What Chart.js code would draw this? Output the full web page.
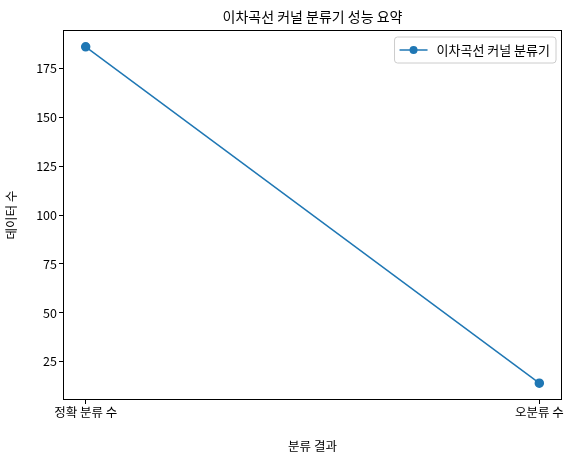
<!DOCTYPE html>
<html>
<head>
<meta charset="utf-8">
<script src="https://cdn.jsdelivr.net/npm/chart.js@4"></script>
<style>
  body { margin: 0; background: #fff; }
  #wrap { width: 573px; height: 454px; }
</style>
</head>
<body>
<div id="wrap"><canvas id="c"></canvas></div>
<script>
const categories = ['정확 분류 수', '오분류 수'];
const counts = [186, 14];
const yTicks = [25, 50, 75, 100, 125, 150, 175];
const seriesLabel = '이차곡선 커널 분류기';
const FONT = "'Noto Sans CJK KR', 'Noto Sans', sans-serif";

// title + legend box drawn like matplotlib
const decor = {
    id: 'decor',
    afterDraw(chart) {
        const { ctx, chartArea: a } = chart;
        ctx.save();
        ctx.fillStyle = '#000';
        ctx.font = `14px ${FONT}`;
        ctx.textAlign = 'center';
        ctx.textBaseline = 'bottom';
        ctx.fillText('이차곡선 커널 분류기 성능 요약', (a.left + a.right) / 2, a.top - 6);
        // legend
        ctx.font = `13px ${FONT}`;
        const tw = ctx.measureText(seriesLabel).width;
        const w = tw + 48, h = 26;
        const x = a.right - 6 - w, y = a.top + 7;
        ctx.strokeStyle = '#ccc';
        ctx.fillStyle = 'rgba(255,255,255,0.8)';
        ctx.beginPath();
        ctx.roundRect(x, y, w, h, 3);
        ctx.fill();
        ctx.stroke();
        ctx.strokeStyle = '#1f77b4';
        ctx.lineWidth = 1.5;
        ctx.beginPath();
        ctx.moveTo(x + 5, y + h / 2);
        ctx.lineTo(x + 33, y + h / 2);
        ctx.stroke();
        ctx.fillStyle = '#1f77b4';
        ctx.beginPath();
        ctx.arc(x + 19, y + h / 2, 4, 0, Math.PI * 2);
        ctx.fill();
        ctx.fillStyle = '#000';
        ctx.textAlign = 'left';
        ctx.textBaseline = 'middle';
        ctx.fillText(seriesLabel, x + 42, y + h / 2);
        // frame
        ctx.strokeStyle = '#000';
        ctx.lineWidth = 1;
        ctx.strokeRect(a.left + 0.5, a.top + 0.5, a.right - a.left - 1, a.bottom - a.top - 1);
        ctx.restore();
    }
};

const tickGrid = { display: true, drawOnChartArea: false, drawTicks: true, tickLength: 4, color: '#000' };

new Chart(document.getElementById('c'), {
    type: 'line',
    data: {
        datasets: [{
            label: seriesLabel,
            data: counts.map((v, i) => ({ x: i, y: v })),
            borderColor: '#1f77b4',
            backgroundColor: '#1f77b4',
            borderWidth: 1.5,
            pointRadius: 4,
            tension: 0
        }]
    },
    options: {
        responsive: true,
        maintainAspectRatio: false,
        animation: false,
        layout: { padding: { top: 30, right: 11, left: 0, bottom: 0 } },
        plugins: { legend: { display: false }, tooltip: { enabled: false } },
        scales: {
            x: {
                type: 'linear',
                min: -0.05,
                max: 1.05,
                afterBuildTicks: s => { s.ticks = [{ value: 0 }, { value: 1 }]; },
                afterFit: s => { s.height = 54; },
                grid: tickGrid,
                border: { display: false },
                ticks: {
                    color: '#000',
                    padding: 1,
                    font: { family: FONT, size: 12.5 },
                    maxRotation: 0,
                    callback: v => categories[v]
                },
                title: { display: true, text: '분류 결과', color: '#000', padding: { top: 2, bottom: 0 }, font: { family: FONT, size: 12.5 } }
            },
            y: {
                min: 5.4,
                max: 194.6,
                afterBuildTicks: s => { s.ticks = yTicks.map(v => ({ value: v })); },
                afterFit: s => { s.width = 63; },
                grid: tickGrid,
                border: { display: false },
                ticks: { color: '#000', padding: 2, font: { family: FONT, size: 12.5 } },
                title: { display: true, text: '데이터 수', color: '#000', font: { family: FONT, size: 12.5 } }
            }
        }
    },
    plugins: [decor]
});
</script>
</body>
</html>
